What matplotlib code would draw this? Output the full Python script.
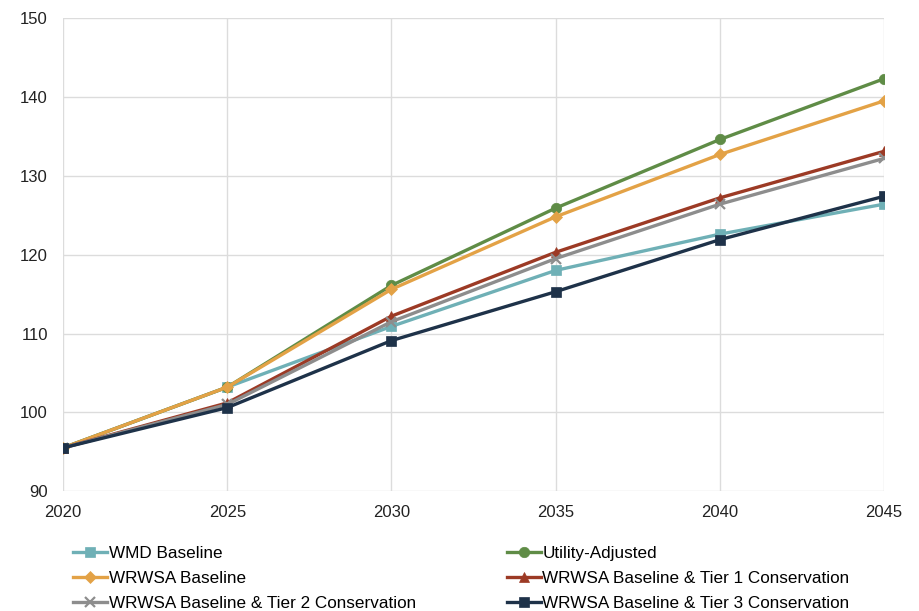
import matplotlib
matplotlib.use('Agg')
import matplotlib.pyplot as plt
import numpy as np

plt.rcParams['font.family'] = ['Liberation Sans', 'DejaVu Sans']

years = [2020, 2025, 2030, 2035, 2040, 2045]
wmd = [95.5, 103.2, 110.9, 118.0, 122.6, 126.4]
utility = [95.5, 103.2, 116.1, 125.9, 134.6, 142.3]
wrwsa = [95.5, 103.2, 115.6, 124.8, 132.7, 139.5]
tier1 = [95.5, 101.2, 112.2, 120.3, 127.2, 133.1]
tier2 = [95.5, 101.0, 111.5, 119.5, 126.4, 132.2]
tier3 = [95.5, 100.6, 109.1, 115.3, 121.9, 127.4]

series = [
    ('WMD Baseline', wmd, '#6fb0b6', 's'),
    ('Utility-Adjusted', utility, '#5f8c46', 'o'),
    ('WRWSA Baseline', wrwsa, '#e3a246', 'D'),
    ('WRWSA Baseline & Tier 1 Conservation', tier1, '#9c3a25', '^'),
    ('WRWSA Baseline & Tier 2 Conservation', tier2, '#8d8d8d', 'x'),
    ('WRWSA Baseline & Tier 3 Conservation', tier3, '#1e3249', 's'),
]

fig = plt.figure(figsize=(9.19, 6.11), dpi=100)
ax = fig.add_axes([0.0686, 0.196, 0.8934, 0.7745])

lines = {}
for name, vals, color, mk in series:
    ms = 7.5 if mk != 'D' else 6.5
    l, = ax.plot(years, vals, color=color, marker=mk, markersize=ms, linewidth=2.4,
                 markeredgewidth=1.6 if mk == 'x' else 0.5, label=name)
    lines[name] = l

ax.set_xlim(2020, 2045)
ax.set_ylim(90, 150)
ax.set_xticks(years)
ax.set_yticks(np.arange(90, 151, 10))
ax.grid(True, color='#dcdcdc', linewidth=1)
ax.set_axisbelow(True)
for s in ax.spines.values():
    s.set_visible(False)
ax.tick_params(length=0, labelsize=12, colors='#222222')
ax.tick_params(axis='y', pad=11)
ax.tick_params(axis='x', pad=10)

order = ['WMD Baseline', 'WRWSA Baseline', 'WRWSA Baseline & Tier 2 Conservation',
         'Utility-Adjusted', 'WRWSA Baseline & Tier 1 Conservation',
         'WRWSA Baseline & Tier 3 Conservation']
fig.legend([lines[n] for n in order], order, ncol=2, loc='upper left',
           bbox_to_anchor=(0.0794, 0.106), frameon=False, fontsize=12.3,
           handlelength=2.0, handletextpad=0.1, columnspacing=5.3,
           labelspacing=0.59, borderaxespad=0, borderpad=0)

fig.savefig('out.png', dpi=100)
